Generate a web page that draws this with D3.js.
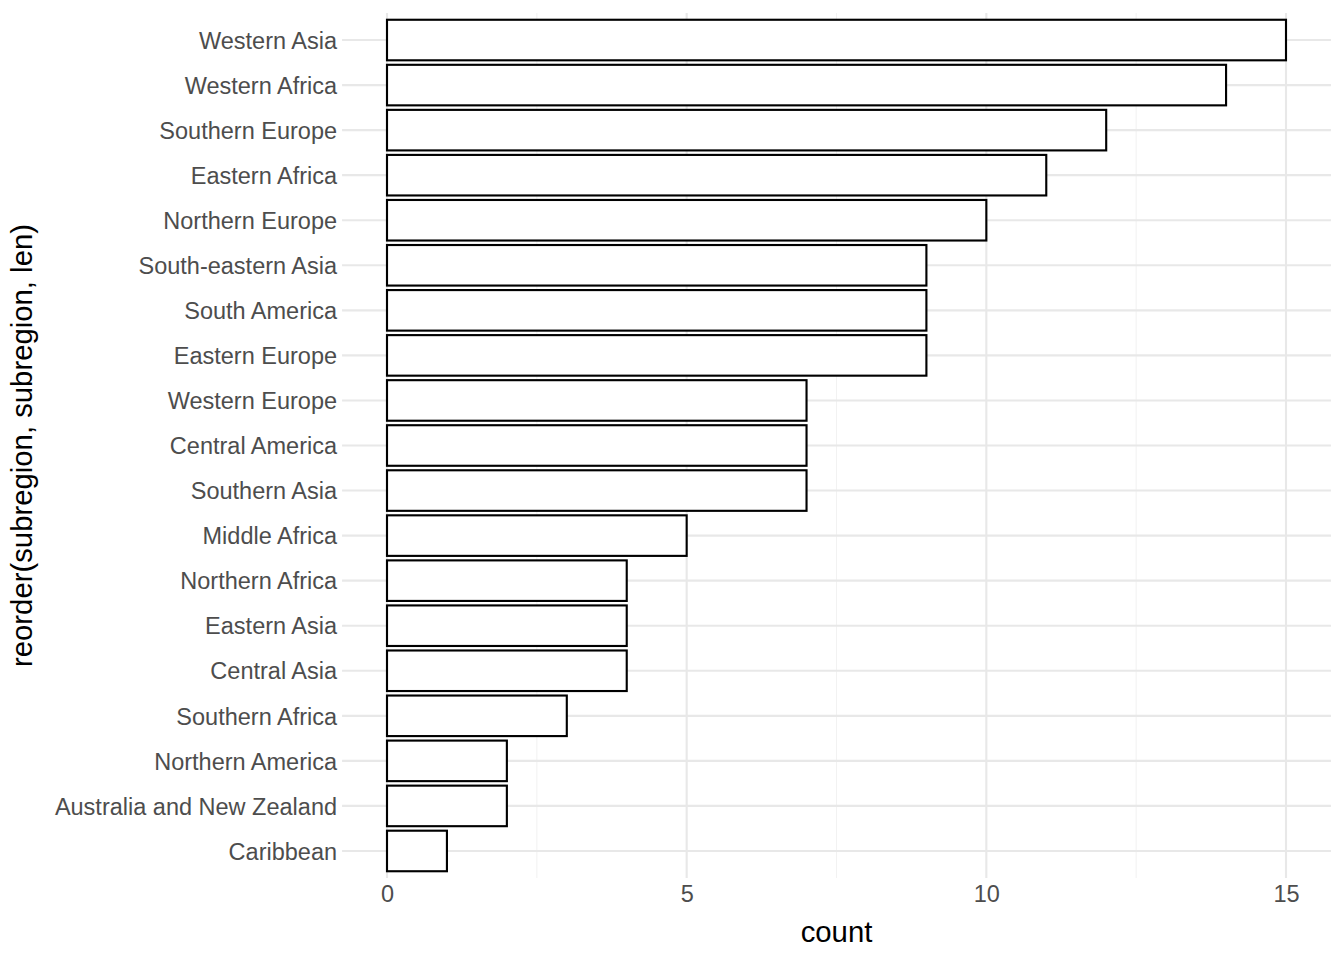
<!DOCTYPE html>
<html><head><meta charset="utf-8">
<script src="https://cdn.jsdelivr.net/npm/d3@7"></script>
<style>body{margin:0;background:#fff}svg{display:block}text{font-family:"Liberation Sans",Arial,Helvetica,sans-serif}</style>
</head><body>
<script>
const categories = ["Western Asia","Western Africa","Southern Europe","Eastern Africa","Northern Europe","South-eastern Asia","South America","Eastern Europe","Western Europe","Central America","Southern Asia","Middle Africa","Northern Africa","Eastern Asia","Central Asia","Southern Africa","Northern America","Australia and New Zealand","Caribbean"];
const counts = [15,14,12,11,10,9,9,9,7,7,7,5,4,4,4,3,2,2,1];
const xTicks = [0,5,10,15];
const xMinor = [2.5,7.5,12.5];

const W = 1344, H = 960;
const L = 342.05, R = 1330.95, T = 13, B = 878;
const svg = d3.select("body").append("svg").attr("width", W).attr("height", H);

const x = d3.scaleLinear().domain([-0.75, 15.75]).range([L, R]);
const y = d3.scaleBand().domain(categories).range([T, B]).paddingInner(0.1).paddingOuter(0.15);

// minor grid
svg.append("g").selectAll("line").data(xMinor).join("line")
  .attr("x1", d => x(d)).attr("x2", d => x(d)).attr("y1", T).attr("y2", B)
  .attr("stroke", "#F2F2F2").attr("stroke-width", 1.07);
// major grid
svg.append("g").selectAll("line").data(xTicks).join("line")
  .attr("x1", d => x(d)).attr("x2", d => x(d)).attr("y1", T).attr("y2", B)
  .attr("stroke", "#E8E8E8").attr("stroke-width", 2.13);
svg.append("g").selectAll("line").data(categories).join("line")
  .attr("y1", d => y(d) + y.bandwidth()/2).attr("y2", d => y(d) + y.bandwidth()/2)
  .attr("x1", L).attr("x2", R)
  .attr("stroke", "#E8E8E8").attr("stroke-width", 2.13);

// bars
svg.append("g").selectAll("rect").data(categories).join("rect")
  .attr("x", x(0)).attr("y", d => y(d))
  .attr("width", (d, i) => x(counts[i]) - x(0))
  .attr("height", y.bandwidth())
  .attr("fill", "#fff").attr("stroke", "#000").attr("stroke-width", 2.13);

// y axis labels
const yAxis = d3.axisLeft(y).tickSize(0).tickPadding(5);
const gy = svg.append("g").attr("transform", `translate(${L},0)`).call(yAxis);
gy.select(".domain").remove();
gy.selectAll("text").attr("fill", "#4D4D4D").attr("dy", "0.37em").style("font-size", "23.5px")
  .style("font-family", '"Liberation Sans",Arial,sans-serif');

// x axis labels
const xAxis = d3.axisBottom(x).tickValues(xTicks).tickSize(0).tickPadding(7);
const gx = svg.append("g").attr("transform", `translate(0,${B})`).call(xAxis);
gx.select(".domain").remove();
gx.selectAll("text").attr("fill", "#4D4D4D").style("font-size", "23.5px")
  .style("font-family", '"Liberation Sans",Arial,sans-serif');

// titles
svg.append("text").attr("x", (L + R) / 2).attr("y", 942).attr("text-anchor", "middle")
  .style("font-size", "29.3px").attr("fill", "#000").text("count");
svg.append("text").attr("transform", `translate(32,${(T + B) / 2}) rotate(-90)`)
  .attr("text-anchor", "middle").style("font-size", "29.3px").attr("fill", "#000")
  .text("reorder(subregion, subregion, len)");
</script>
</body></html>
